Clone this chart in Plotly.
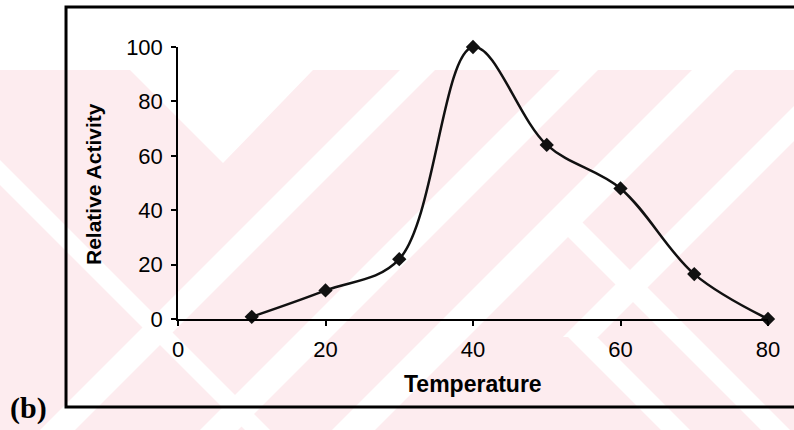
import plotly.graph_objects as go

# Enzyme activity versus temperature
temperature = [10, 20, 30, 40, 50, 60, 70, 80]
relative_activity = [0.8, 10.5, 22, 100, 64, 48, 16.5, 0]
x_ticks = [0, 20, 40, 60, 80]
y_ticks = [0, 20, 40, 60, 80, 100]

W, H = 794, 430
L, R, T, B = 178, 26, 47, 111
PW, PH = W - L - R, H - T - B


def px(x):
    return (x - L) / PW


def py(y):
    return (H - B - y) / PH


def poly(points):
    return "M " + " L ".join(f"{px(a):.4f},{py(b):.4f}" for a, b in points) + " Z"


PINK = "#fdecef"
shapes = []

# faint striped background
shapes.append(dict(type="path", path=poly([(0, 70), (W, 70), (W, H), (0, H)]),
                   xref="paper", yref="paper", fillcolor=PINK, line_width=0, layer="below"))


def slash(c0, c1, ya, yb):
    return [(c0 - ya, ya), (c1 - ya, ya), (c1 - yb, yb), (c0 - yb, yb)]


def back(d0, d1, ya, yb):
    return [(d0 + ya, ya), (d1 + ya, ya), (d1 + yb, yb), (d0 + yb, yb)]


gaps = [
    [(130, 70), (313, 70), (223, 163)],
    slash(470, 505, 70, 430),
    slash(630, 668, 70, 430),
    slash(762, 805, 70, 430),
    slash(900, 935, 70, 337),
    back(-185, -160, 70, 430),
    back(231, 260, 337, 430),
    back(331, 360, 217, 430),
]
for g in gaps:
    shapes.append(dict(type="path", path=poly(g), xref="paper", yref="paper",
                       fillcolor="white", line_width=0, layer="below"))

# outer frame
shapes.append(dict(type="path", path=poly([(66, 7), (800, 7), (800, 407), (66, 407)]),
                   xref="paper", yref="paper", line=dict(color="black", width=3),
                   fillcolor="rgba(0,0,0,0)", layer="above"))

fig = go.Figure()
fig.add_trace(go.Scatter(
    x=temperature, y=relative_activity, mode="lines+markers",
    line=dict(color="#111111", width=2.5, shape="spline", smoothing=1.0),
    marker=dict(symbol="diamond", size=11, color="#111111"),
    cliponaxis=False, showlegend=False,
))

tick_font = dict(family="Liberation Sans, Arial, sans-serif", size=22, color="black")
title_font = dict(family="Liberation Sans, Arial, sans-serif", size=21, color="black", weight="bold")

fig.update_xaxes(range=[0, 80], tickvals=x_ticks, showline=True, linecolor="black", linewidth=1.5,
                 ticks="outside", ticklen=5, tickwidth=1.5, tickcolor="black",
                 showgrid=False, zeroline=False, tickfont=tick_font, ticklabelstandoff=5)
fig.update_yaxes(range=[0, 100], tickvals=y_ticks, showline=True, linecolor="black", linewidth=1.5,
                 ticks="outside", ticklen=5, tickwidth=1.5, tickcolor="black",
                 showgrid=False, zeroline=False, tickfont=tick_font, ticklabelstandoff=4)

annotations = [
    dict(text="Temperature", x=px(473), y=py(384), xref="paper", yref="paper",
         xanchor="center", yanchor="middle", showarrow=False,
         font=dict(family="Liberation Sans, Arial, sans-serif", size=23, color="black", weight="bold")),
    dict(text="Relative Activity", x=px(93), y=py(184), xref="paper", yref="paper",
         xanchor="center", yanchor="middle", textangle=-90, showarrow=False, font=title_font),
    dict(text="(b)", x=px(28), y=py(408), xref="paper", yref="paper",
         xanchor="center", yanchor="middle", showarrow=False,
         font=dict(family="Liberation Serif, Times New Roman, serif", size=30, color="black", weight="bold")),
]

fig.update_layout(
    width=W, height=H, margin=dict(l=L, r=R, t=T, b=B),
    paper_bgcolor="white", plot_bgcolor="rgba(0,0,0,0)",
    shapes=shapes, annotations=annotations,
)

fig.write_html("out.html")
